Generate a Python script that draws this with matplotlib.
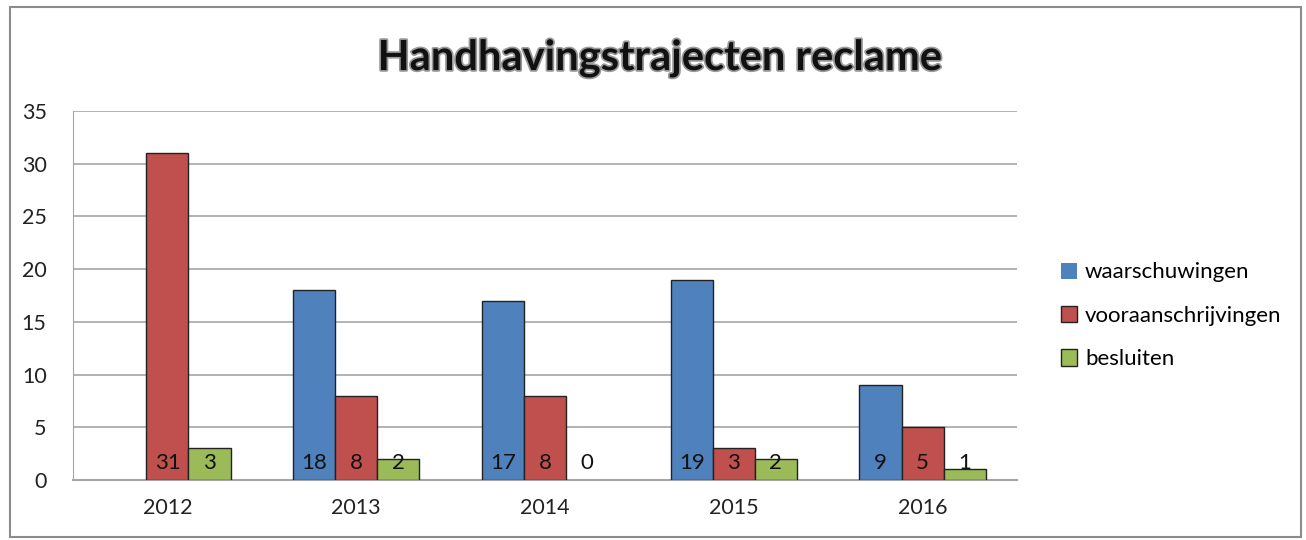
#!/usr/bin/env python3

import matplotlib
matplotlib.use("Agg")
import matplotlib.pyplot as plt
import matplotlib.patheffects as pe
from matplotlib.patches import Rectangle
import numpy as np

plt.rcParams['font.family'] = ['Lato', 'DejaVu Sans']

years = ['2012', '2013', '2014', '2015', '2016']
waarschuwingen = [0, 18, 17, 19, 9]
vooraanschrijvingen = [31, 8, 8, 3, 5]
besluiten = [3, 2, 0, 2, 1]

series = [
  ('waarschuwingen', waarschuwingen, '#4F81BD'),
  ('vooraanschrijvingen', vooraanschrijvingen, '#C0504D'),
  ('besluiten', besluiten, '#9BBB59'),
]

fig = plt.figure(figsize=(13.06, 5.4), dpi=100)
ax = fig.add_axes([73 / 1306, 60 / 540, 944 / 1306, 369 / 540])

# outer chart border
fig.patches.append(Rectangle((10 / 1306, 3 / 540), 1291 / 1306, 530 / 540,
                             transform=fig.transFigure, fill=False,
                             edgecolor='#8c8c8c', linewidth=1.5))

x = np.arange(len(years))
w = 0.223
for i, (name, vals, col) in enumerate(series):
  pos = x + (i - 1) * w
  lw = [1.0 if v > 0 else 0 for v in vals]
  ax.bar(pos, vals, width=w, color=col, edgecolor='#222222',
         linewidth=lw, label=name, zorder=3)
  for p, v in zip(pos, vals):
    if name == 'waarschuwingen' and v == 0:
      continue
    ax.text(p, 1.6, str(v), ha='center', va='center', fontsize=16,
            color='#111111', zorder=4)

ax.set_xlim(-0.5, len(years) - 0.5)
ax.set_ylim(0, 35)
ax.set_yticks(range(0, 36, 5))
ax.set_xticks(x)
ax.set_xticklabels(years)
ax.tick_params(axis='both', length=0, labelsize=15.5, colors='#222222')
ax.tick_params(axis='y', pad=19)
ax.tick_params(axis='x', pad=13)
ax.yaxis.grid(True, color='#a6a6a6', linewidth=1.2, zorder=0)
for s in ['top', 'right']:
  ax.spines[s].set_visible(False)
ax.spines['left'].set_color('#a6a6a6')
ax.spines['bottom'].set_color('#a6a6a6')
ax.spines['bottom'].set_linewidth(1.5)

fig.text(0.505, 0.892, 'Handhavingstrajecten reclame', ha='center',
         va='center', fontsize=30, fontweight='bold', color='#111111',
         path_effects=[pe.withStroke(linewidth=2.5, foreground='#9a9a9a')])

ax.legend(loc='center left', bbox_to_anchor=(1.025, 0.445), frameon=False,
          fontsize=16, handlelength=0.75, handleheight=0.75,
          handletextpad=0.35, labelspacing=1.05)

fig.savefig('out.png', dpi=100, facecolor='white')
